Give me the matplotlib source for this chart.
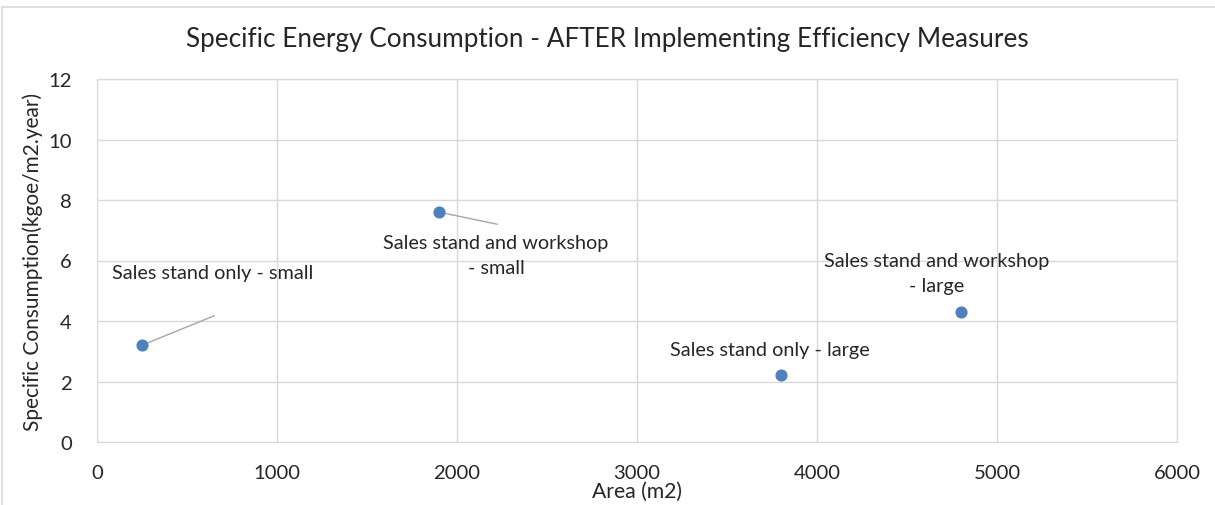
import matplotlib
import matplotlib.pyplot as plt
from matplotlib.patches import Rectangle

matplotlib.use("Agg")

# data
area = [250, 1900, 3800, 4800]
consumption = [3.2, 7.6, 2.2, 4.3]
labels = [
    "Sales stand only - small",
    "Sales stand and workshop\n- small",
    "Sales stand only - large",
    "Sales stand and workshop\n- large",
]
# label centre (data coords); leader end point or None
label_pos = [(644, 5.59), (2217, 6.18), (3739, 3.07), (4667, 5.59)]
leader_end = [(650, 4.17), (2222, 7.2), None, None]

x_ticks = [0, 1000, 2000, 3000, 4000, 5000, 6000]
y_ticks = [0, 2, 4, 6, 8, 10, 12]

plt.rcParams["font.family"] = ["Lato", "DejaVu Sans"]
grid_col = "#d9d9d9"
text_col = "#262626"

fig = plt.figure(figsize=(12.15, 5.06), dpi=100)
ax = fig.add_axes([97 / 1215, 63 / 506, 1080 / 1215, 363 / 506])

# outer chart border (cut off at right and bottom in the reference)
fig.patches.append(Rectangle((2 / 1215, -0.1), 1.2, (498 + 0.1 * 506) / 506,
                             transform=fig.transFigure, fill=False,
                             edgecolor=grid_col, linewidth=1.2))

ax.scatter(area, consumption, s=60, color="#4f81bd", zorder=3)

for x, y, (lx, ly), lab, end in zip(area, consumption, label_pos, labels, leader_end):
    ax.text(lx, ly, lab, ha="center", va="center", fontsize=14.3,
            color=text_col, linespacing=1.6)
    if end is not None:
        ax.plot([x, end[0]], [y, end[1]], color="#a6a6a6", lw=1, zorder=2)

ax.set_xlim(0, 6000)
ax.set_ylim(0, 12)
ax.set_xticks(x_ticks)
ax.set_yticks(y_ticks)
ax.tick_params(length=0, labelsize=14.6, colors=text_col)
ax.tick_params(axis="x", pad=16)
ax.tick_params(axis="y", pad=18)
ax.grid(True, color=grid_col, linewidth=1)
ax.set_axisbelow(True)
for s in ax.spines.values():
    s.set_color(grid_col)

fig.text(0.5, 1 - 40 / 506, "Specific Energy Consumption - AFTER Implementing Efficiency Measures",
         ha="center", va="center", fontsize=18.8, color=text_col)
ax.set_xlabel("Area (m2)", fontsize=15.2, color=text_col, labelpad=0)
ax.set_ylabel("Specific Consumption(kgoe/m2.year)", fontsize=15, color=text_col, labelpad=4)

fig.savefig("out.png", dpi=100)
